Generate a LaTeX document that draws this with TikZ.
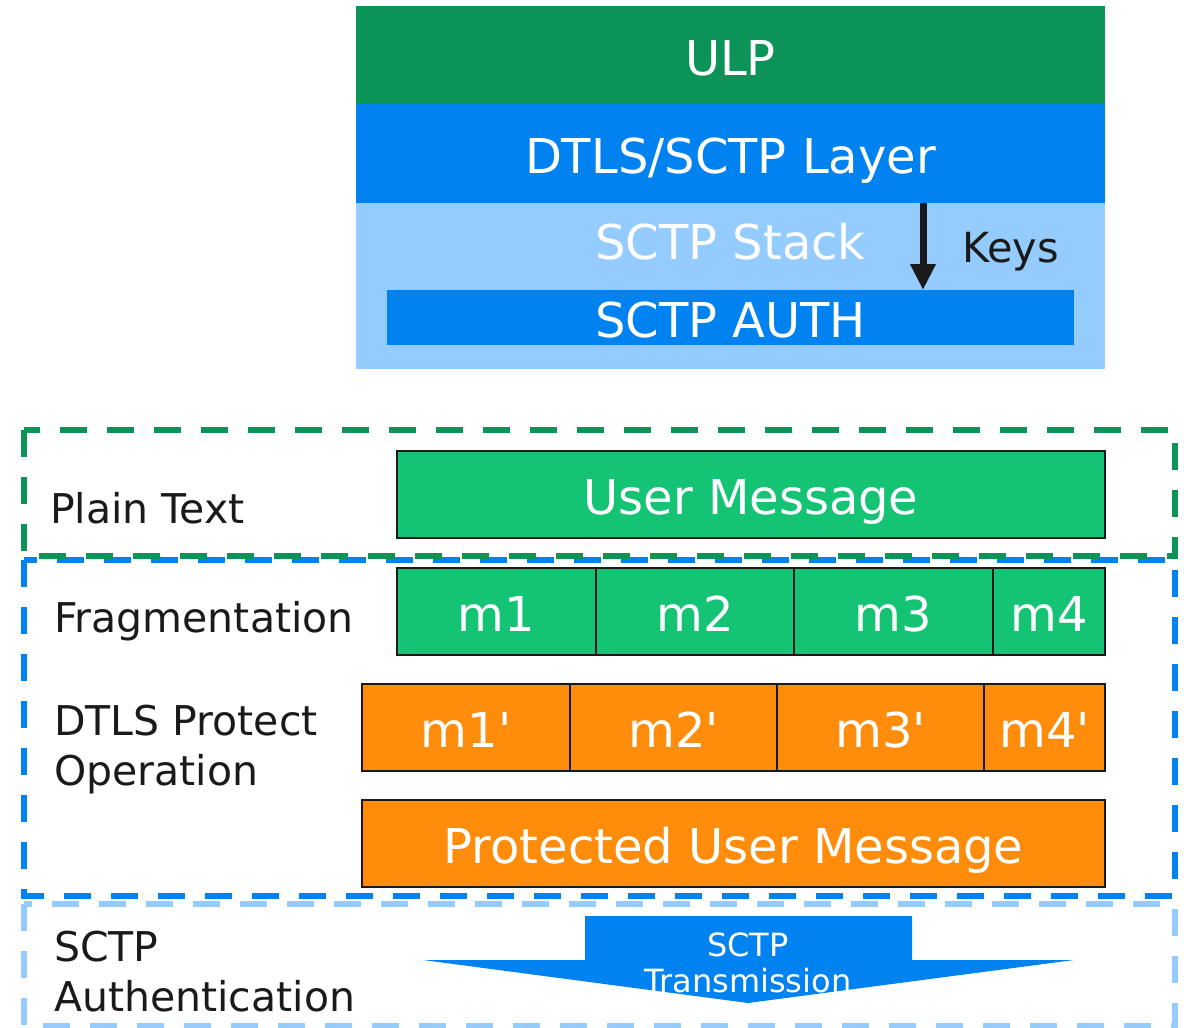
\documentclass[tikz,border=0pt]{standalone}
\usepackage{fontspec}
\setmainfont{DejaVu Sans}
\usetikzlibrary{positioning,arrows.meta}

\definecolor{ulpgreen}{RGB}{12,147,88}
\definecolor{layerblue}{RGB}{0,130,240}
\definecolor{stackblue}{RGB}{148,204,255}
\definecolor{msggreen}{RGB}{20,195,115}
\definecolor{protorange}{RGB}{255,140,10}
\definecolor{inkblack}{RGB}{26,26,26}

\begin{document}
\begin{tikzpicture}[
    x=1pt, y=-1pt,
    stackbox/.style={rectangle, minimum width=749pt, inner sep=0pt, outer sep=0pt, text=white, font=\fontsize{48}{56}\selectfont, text height=40pt, text depth=0pt},
    fragbox/.style={rectangle, draw=inkblack, line width=2.8pt, minimum height=87pt, inner sep=0pt, outer sep=0pt, text=white, font=\fontsize{48}{56}\selectfont, text height=40pt, text depth=0pt},
    rowlabel/.style={anchor=base west, align=left, inner sep=0pt, text=inkblack, font=\fontsize{41}{50}\selectfont},
    zoneframe/.style={line width=5.5pt, dash pattern=on 27pt off 20pt},
    arrow/.style={-{Triangle[width=24pt,length=26pt]}, line width=7pt, draw=inkblack}
]
    \useasboundingbox (0,0) rectangle (1184,1028);

    % protocol stack
    \node [stackbox, fill=ulpgreen, minimum height=98pt] (ulp) at (730.5,55) {ULP};
    \node [stackbox, fill=layerblue, minimum height=99pt, below=0pt of ulp] (dtls) {DTLS/SCTP Layer};
    \node [stackbox, fill=stackblue, minimum height=166pt, below=0pt of dtls] (stack) {};
    \node [anchor=base, inner sep=0pt, text=white, font=\fontsize{48}{56}\selectfont] (stacktext) at (730.5,259) {SCTP Stack};
    \node [stackbox, fill=layerblue, minimum width=687pt, minimum height=55pt] (auth) at (730.5,317.5) {SCTP AUTH};
    \draw [arrow] (dtls.south -| 923,0) -- (auth.north -| 923,0);
    \node [anchor=base west, inner sep=0pt, text=inkblack, font=\fontsize{41.5}{50}\selectfont] (keys) at (962,262) {Keys};

    % processing zones
    \draw [zoneframe, draw=stackblue] (24,904) rectangle (1175,1026);
    \draw [zoneframe, draw=layerblue] (24,560) rectangle (1175,896);
    \draw [zoneframe, draw=ulpgreen] (24,430) rectangle (1175,556);

    \node [rowlabel] (plain) at (50,523) {Plain Text};
    \node [rowlabel] (frag) at (54,632) {Fragmentation};
    \node [rowlabel] (protect) at (54,785) {DTLS Protect\\Operation};
    \node [rowlabel] (sctpauth) at (54,1011) {SCTP\\Authentication};

    \node [fragbox, fill=msggreen, minimum width=708pt] (usermsg) at (751,494.5) {User Message};

    \node [fragbox, fill=msggreen, minimum width=199pt, anchor=west] (m1) at (397,611.5) {m1};
    \node [fragbox, fill=msggreen, minimum width=198pt, right=0pt of m1] (m2) {m2};
    \node [fragbox, fill=msggreen, minimum width=199pt, right=0pt of m2] (m3) {m3};
    \node [fragbox, fill=msggreen, minimum width=112pt, right=0pt of m3] (m4) {m4};

    \node [fragbox, fill=protorange, minimum width=208pt, anchor=west] (p1) at (362,727.5) {m1\textquotesingle};
    \node [fragbox, fill=protorange, minimum width=207pt, right=0pt of p1] (p2) {m2\textquotesingle};
    \node [fragbox, fill=protorange, minimum width=207pt, right=0pt of p2] (p3) {m3\textquotesingle};
    \node [fragbox, fill=protorange, minimum width=121pt, right=0pt of p3] (p4) {m4\textquotesingle};

    \node [fragbox, fill=protorange, minimum width=743pt] (protmsg) at (733.5,843.5) {Protected User Message};

    % transmission arrow
    \fill [layerblue] (585,916) -- (912,916) -- (912,960) -- (1074,960) -- (748,1003) -- (423,960) -- (585,960) -- cycle;
    \node [anchor=base, align=center, inner sep=0pt, text=white, font=\fontsize{32}{36}\selectfont] (transmit) at (748,992) {SCTP\\Transmission};

\end{tikzpicture}
\end{document}
